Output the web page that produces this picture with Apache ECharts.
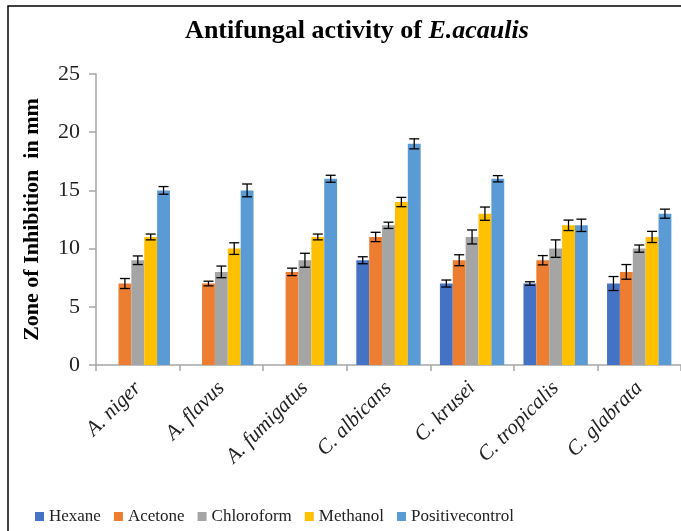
<!DOCTYPE html>
<html>
<head>
<meta charset="utf-8">
<script src="https://cdn.jsdelivr.net/npm/echarts@6/dist/echarts.min.js"></script>
<style>
	html, body { margin: 0; padding: 0; background: #ffffff; }
	#chart { width: 681px; height: 531px; }
</style>
</head>
<body>
<div id="chart"></div>
<script>
var fungi = ['A. niger', 'A. flavus', 'A. fumigatus', 'C. albicans', 'C. krusei', 'C. tropicalis', 'C. glabrata'];
var solvents = ['Hexane', 'Acetone', 'Chloroform', 'Methanol', 'Positivecontrol'];
var colors = ['#4472C4', '#ED7D31', '#A5A5A5', '#FFC000', '#5B9BD5'];

// zone of inhibition (mm), '-' = no activity
var hexane = ['-', '-', '-', 9, 7, 7, 7];
var acetone = [7, 7, 8, 11, 9, 9, 8];
var chloroform = [9, 8, 9, 12, 11, 10, 10];
var methanol = [11, 10, 11, 14, 13, 12, 11];
var positive = [15, 15, 16, 19, 16, 12, 13];

// error (+/-)
var hexaneErr = [0, 0, 0, 0.3, 0.3, 0.15, 0.6];
var acetoneErr = [0.43, 0.2, 0.32, 0.4, 0.47, 0.4, 0.63];
var chloroformErr = [0.37, 0.5, 0.6, 0.27, 0.6, 0.75, 0.31];
var methanolErr = [0.25, 0.5, 0.25, 0.4, 0.57, 0.45, 0.48];
var positiveErr = [0.33, 0.55, 0.3, 0.43, 0.27, 0.53, 0.39];

var values = [hexane, acetone, chloroform, methanol, positive];
var errors = [hexaneErr, acetoneErr, chloroformErr, methanolErr, positiveErr];

var serif = 'Liberation Serif';
var gapPct = 0.23;

var myChart = echarts.init(document.getElementById('chart'));

function errorSeries(k) {
	var rows = [];
	for (var i = 0; i < fungi.length; i++) {
		if (values[k][i] !== '-') rows.push([i, values[k][i], errors[k][i]]);
	}
	return {
		type: 'custom',
		name: solvents[k],
		z: 10,
		encode: { x: 0, y: 1 },
		renderItem: function (params, api) {
			var cat = api.value(0), v = api.value(1), e = api.value(2);
			var band = api.size([1, 0])[0];
			var bw = band * (1 - gapPct) / 5;
			var x = api.coord([cat, v])[0] + (k - 2) * bw;
			var hi = api.coord([cat, v + e])[1];
			var lo = api.coord([cat, v - e])[1];
			var cw = 5;
			var st = { stroke: '#000', lineWidth: 1.3 };
			return {
				type: 'group',
				children: [
					{ type: 'line', shape: { x1: x, y1: hi, x2: x, y2: lo }, style: st },
					{ type: 'line', shape: { x1: x - cw, y1: hi, x2: x + cw, y2: hi }, style: st },
					{ type: 'line', shape: { x1: x - cw, y1: lo, x2: x + cw, y2: lo }, style: st }
				]
			};
		},
		data: rows
	};
}

var series = [];
for (var k = 0; k < solvents.length; k++) {
	series.push({
		name: solvents[k],
		type: 'bar',
		barGap: '0%',
		barCategoryGap: (gapPct * 100) + '%',
		itemStyle: { color: colors[k] },
		data: values[k]
	});
}
for (var k = 0; k < solvents.length; k++) {
	series.push(errorSeries(k));
}

var option = {
	animation: false,
	color: colors,
	title: {
		text: 'Antifungal activity of {i|E.acaulis}',
		left: 352,
		top: 13,
		textAlign: 'center',
		textStyle: {
			fontFamily: serif,
			fontSize: 26,
			fontWeight: 'bold',
			color: '#000',
			rich: {
				i: { fontFamily: serif, fontSize: 26, fontWeight: 'bold', fontStyle: 'italic', color: '#000' }
			}
		}
	},
	graphic: [
		{
			type: 'rect',
			shape: { x: 8, y: 6, width: 720, height: 600 },
			style: { fill: 'none', stroke: '#000', lineWidth: 1.5 },
			silent: true
		}
	],
	legend: {
		data: solvents,
		left: 30,
		bottom: 1,
		icon: 'rect',
		itemWidth: 9,
		itemHeight: 9,
		itemGap: 13,
		textStyle: {
			fontFamily: serif,
			fontSize: 17,
			color: '#222'
		}
	},
	grid: {
		left: 96,
		right: 0,
		top: 74,
		bottom: 166
	},
	xAxis: {
		type: 'category',
		data: fungi,
		axisLine: { lineStyle: { color: '#a6a6a6', width: 1.5 } },
		axisTick: { show: true, length: 6, lineStyle: { color: '#a6a6a6', width: 1.5 } },
		axisLabel: {
			interval: 0,
			rotate: 45,
			margin: 20,
			fontFamily: serif,
			fontStyle: 'italic',
			fontSize: 21,
			color: '#222'
		}
	},
	yAxis: {
		type: 'value',
		min: 0,
		max: 25,
		interval: 5,
		name: 'Zone of Inhibition  in mm',
		nameLocation: 'middle',
		nameGap: 53,
		nameTextStyle: {
			fontFamily: serif,
			fontSize: 22,
			fontWeight: 'bold',
			color: '#000'
		},
		axisLine: { show: true, lineStyle: { color: '#a6a6a6', width: 1.5 } },
		axisTick: { show: true, inside: false, length: 7, lineStyle: { color: '#a6a6a6', width: 1.5 } },
		splitLine: { show: false },
		axisLabel: {
			margin: 16,
			fontFamily: serif,
			fontSize: 22,
			color: '#222'
		}
	},
	series: series
};

myChart.setOption(option);
window.addEventListener('resize', function () {
	myChart.resize();
});
</script>
</body>
</html>
